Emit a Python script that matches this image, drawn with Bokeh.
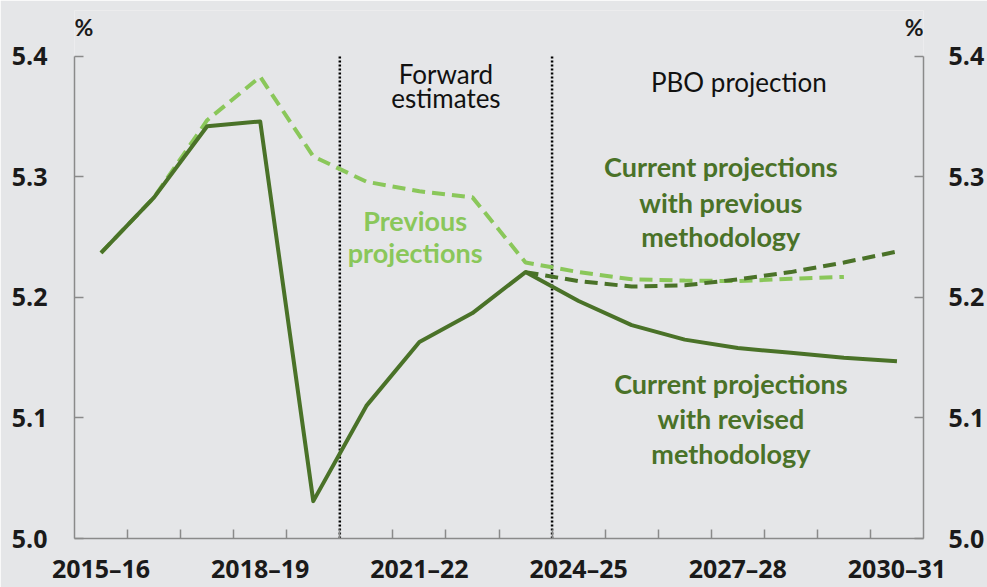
import math
from bokeh.plotting import figure
from bokeh.models import Range1d, LinearAxis, FixedTicker, Label, NumeralTickFormatter
from bokeh.embed import file_html
from bokeh.resources import INLINE

# ---------------- data ----------------
years = ["2015–16", "2016–17", "2017–18", "2018–19", "2019–20", "2020–21",
         "2021–22", "2022–23", "2023–24", "2024–25", "2025–26", "2026–27",
         "2027–28", "2028–29", "2029–30", "2030–31"]
tick_years = ["2015–16", "2018–19", "2021–22", "2024–25", "2027–28", "2030–31"]
y_ticks = [5.0, 5.1, 5.2, 5.3, 5.4]

nan = float("nan")
current_revised = [5.237, 5.283, 5.342, 5.346, 5.031, 5.110, 5.163, 5.187,
                   5.221, 5.197, 5.177, 5.165, 5.158, 5.154, 5.150, 5.147]
previous_proj = [5.237, 5.283, 5.347, 5.383, 5.317, 5.296, 5.288, 5.283,
                 5.229, 5.221, 5.215, 5.214, 5.2135, 5.2155, 5.217, nan]
current_prev_method = [nan, nan, nan, nan, nan, nan, nan, nan,
                       5.221, 5.2135, 5.209, 5.210, 5.215, 5.221, 5.229, 5.238]
# first year of each period (forward estimates, PBO projection)
period_starts = ["2020–21", "2024–25"]

# ---------------- style ----------------
BG = "#E5E6E8"
DARK = "#4A7228"
LIGHT = "#8AC75A"
AXIS = "#8A8A8A"
FONT = "Lato"
TICK_FONT = "Open Sans"
PX_PER_UNIT = 1210.0          # vertical pixels per 1.0 on the y scale
Y_TOP = y_ticks[-1] + 46 / PX_PER_UNIT   # headroom above the axis for the "%" labels

xs = [i + 0.5 for i in range(len(years))]

p = figure(width=987, height=587,
           x_range=Range1d(0, len(years)), y_range=Range1d(y_ticks[0], Y_TOP),
           output_backend="svg", toolbar_location=None,
           min_border_left=74, min_border_right=63, min_border_top=10, min_border_bottom=47,
           background_fill_color=BG, border_fill_color=BG, outline_line_color=None)
p.grid.visible = False

# period separators (dotted, from axis bottom to axis top)
sep_x = [years.index(s) for s in period_starts]
p.segment(x0=sep_x, y0=[y_ticks[0]] * len(sep_x), x1=sep_x, y1=[y_ticks[-1]] * len(sep_x),
          line_color="black", line_width=2.5, line_dash="2 2")

# lines
p.line(xs, previous_proj, line_color=LIGHT, line_width=4, line_dash="13 7")
p.line(xs, current_prev_method, line_color=DARK, line_width=4, line_dash="13 7")
p.line(xs, current_revised, line_color=DARK, line_width=4, line_join="round")

# axes
def style_y(ax, standoff):
    ax.ticker = FixedTicker(ticks=y_ticks)
    ax.bounds = (y_ticks[0], y_ticks[-1])
    ax.formatter = NumeralTickFormatter(format="0.0")
    ax.major_tick_in = 9
    ax.major_tick_out = 0
    ax.minor_tick_line_color = None
    ax.axis_line_color = AXIS
    ax.axis_line_width = 1.5
    ax.major_tick_line_color = AXIS
    ax.major_tick_line_width = 1.5
    ax.major_label_text_font = TICK_FONT
    ax.major_label_text_font_style = "bold"
    ax.major_label_text_font_size = "25px"
    ax.major_label_text_color = "#1A1A1A"
    ax.major_label_standoff = standoff

style_y(p.yaxis[0], 27)
right = LinearAxis()
style_y(right, 25)
p.add_layout(right, "right")

xa = p.xaxis[0]
xa.ticker = FixedTicker(ticks=[years.index(t) + 0.5 for t in tick_years],
                        minor_ticks=list(range(1, len(years))))
xa.major_label_overrides = {years.index(t) + 0.5: t for t in tick_years}
xa.major_tick_in = 0
xa.major_tick_out = 0
xa.minor_tick_in = 9
xa.minor_tick_out = 0
xa.minor_tick_line_color = AXIS
xa.minor_tick_line_width = 1.5
xa.axis_line_color = AXIS
xa.axis_line_width = 1.5
xa.major_label_text_font = TICK_FONT
xa.major_label_text_font_style = "bold"
xa.major_label_text_font_size = "25px"
xa.major_label_text_color = "#1A1A1A"
xa.major_label_standoff = 12

def y_of(py):
    # convert a pixel row to a data value (annotation placement only)
    return y_ticks[0] + (540 - py) / PX_PER_UNIT

def add_text(txt, x, py, color, bold=False, size="27px", align="center", font=FONT):
    p.add_layout(Label(x=x, y=y_of(py - 9), text=txt, text_align=align,
                       text_baseline="alphabetic", text_color=color,
                       text_font=font, text_font_size=size,
                       text_font_style="bold" if bold else "normal"))

# "%" unit labels
add_text("%", 0.0, 36, "#1A1A1A", bold=True, size="23px", align="left")
add_text("%", len(years), 36, "#1A1A1A", bold=True, size="23px", align="right")

add_text("Forward", 7.0, 83, "#111111", size="26px")
add_text("estimates", 7.0, 107, "#111111", size="26px")
add_text("PBO projection", 12.52, 91, "#111111", size="26px")

add_text("Previous", 6.42, 230, LIGHT, bold=True)
add_text("projections", 6.42, 262, LIGHT, bold=True)

add_text("Current projections", 12.18, 176, DARK, bold=True)
add_text("with previous", 12.18, 212, DARK, bold=True)
add_text("methodology", 12.18, 246, DARK, bold=True)

add_text("Current projections", 12.37, 393, DARK, bold=True)
add_text("with revised", 12.37, 429, DARK, bold=True)
add_text("methodology", 12.37, 464, DARK, bold=True)

open("out.html", "w").write(file_html(p, INLINE))
